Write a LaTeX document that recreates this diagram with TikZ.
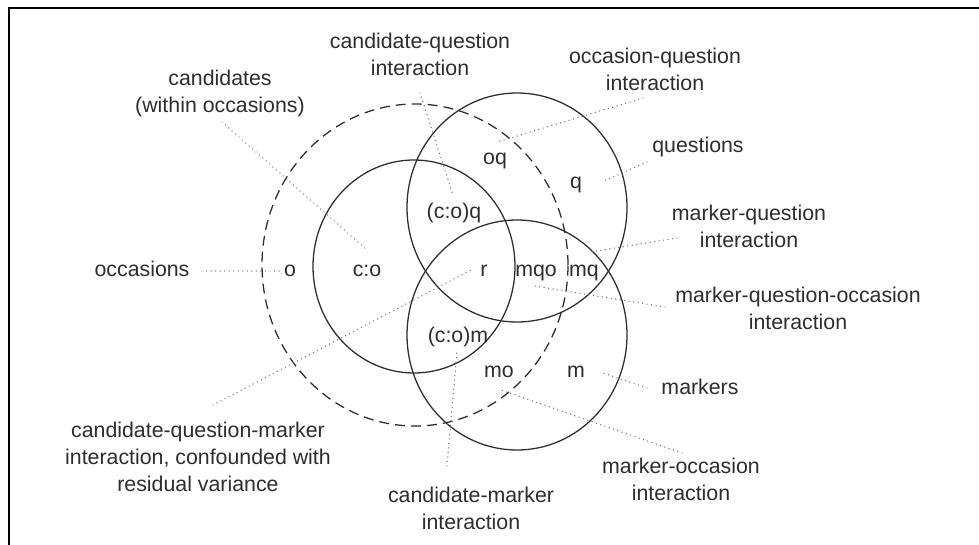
\documentclass[tikz,border=0pt]{standalone}
\usepackage{fontspec}
\setmainfont{Liberation Sans}
\definecolor{ink}{RGB}{45,45,45}
\definecolor{dotc}{RGB}{120,120,120}
\begin{document}
\begin{tikzpicture}[x=0.75pt,y=-0.75pt,
  lbl/.style={font=\fontsize{16}{20.25}\selectfont, text=ink, align=center, inner sep=0pt},
  ring/.style={draw=ink, line width=0.95pt},
  dashring/.style={draw=ink, line width=0.95pt, dash pattern=on 7.5pt off 4.5pt},
  leader/.style={draw=dotc, line width=1.1pt, dash pattern=on 0pt off 3.4pt, line cap=round}]
\useasboundingbox (0,0) rectangle (979,545);
% frame
\draw[line width=1.5pt, black] (9,545) -- (9,7.7) -- (979,7.7);
% circles
\draw[dashring] (415,265) ellipse [x radius=114.75pt, y radius=120.75pt];
\draw[ring] (414,266.5) ellipse [x radius=75.75pt, y radius=79.875pt];
\draw[ring] (517,207.5) ellipse [x radius=82.5pt, y radius=85.875pt];
\draw[ring] (517,335) ellipse [x radius=82.5pt, y radius=86.25pt];
% inner labels
\node[lbl, anchor=base] (o) at (290,277) {o};
\node[lbl, anchor=base] (co) at (367,277) {c:o};
\node[lbl, anchor=base] (r) at (484,277) {r};
\node[lbl, anchor=base] (mqo) at (536,277) {mqo};
\node[lbl, anchor=base] (mq) at (584,277) {mq};
\node[lbl, anchor=base] (coq) at (454,219) {(c:o)q};
\node[lbl, anchor=base] (com) at (458,343) {(c:o)m};
\node[lbl, anchor=base] (oq) at (495,165) {oq};
\node[lbl, anchor=base] (q) at (576,189) {q};
\node[lbl, anchor=base] (mo) at (499,378) {mo};
\node[lbl, anchor=base] (m) at (576,378) {m};
% outer labels
\node[lbl, anchor=base] (occL) at (142,277) {occasions};
\node[lbl, anchor=north] (candL) at (220,70) {candidates\\(within occasions)};
\node[lbl, anchor=north] (cqL) at (420,33) {candidate-question\\interaction};
\node[lbl, anchor=north] (oqL) at (655,48) {occasion-question\\interaction};
\node[lbl, anchor=base] (qL) at (698,153) {questions};
\node[lbl, anchor=north] (mqL) at (749,205) {marker-question\\interaction};
\node[lbl, anchor=north] (mqoL) at (798,287) {marker-question-occasion\\interaction};
\node[lbl, anchor=base] (mL) at (700,395) {markers};
\node[lbl, anchor=north] (moL) at (681,458) {marker-occasion\\interaction};
\node[lbl, anchor=north] (cmL) at (471,487) {candidate-marker\\interaction};
\node[lbl, anchor=north] (cqmL) at (198,422) {candidate-question-marker\\interaction, confounded with\\residual variance};
% leader end points
\coordinate (occA) at (202,271);  \coordinate (occB) at (283,271);
\coordinate (candA) at (222,122); \coordinate (candB) at (367,250);
\coordinate (cqA) at (420,93);    \coordinate (cqB) at (453,195);
\coordinate (oqA) at (643,98);    \coordinate (oqB) at (497,142);
\coordinate (qA) at (647,162);    \coordinate (qB) at (604,181);
\coordinate (mqA) at (677,238);   \coordinate (mqB) at (590,252);
\coordinate (mqoA) at (665,307);  \coordinate (mqoB) at (535,286);
\coordinate (mA) at (647,388);    \coordinate (mB) at (600,372);
\coordinate (moA) at (682,453);   \coordinate (moB) at (498,389);
\coordinate (cmA) at (447,466);   \coordinate (cmB) at (457,351);
\coordinate (cqmA) at (213,405);  \coordinate (cqmB) at (473,269);
% leaders
\foreach \p in {occ,cand,cq,oq,q,mq,mqo,m,mo,cm,cqm}
  \draw[leader] (\p A) -- (\p B);
\end{tikzpicture}
\end{document}
